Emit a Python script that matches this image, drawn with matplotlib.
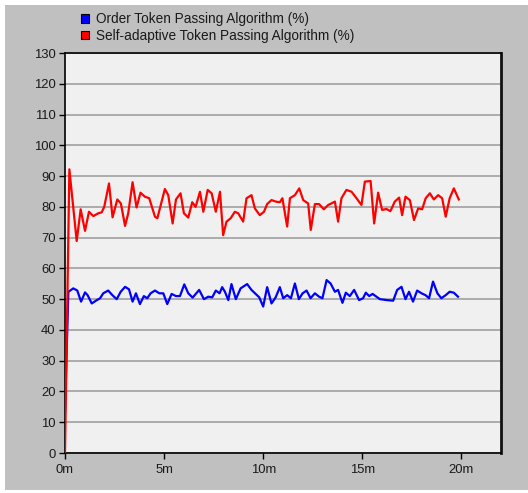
# Token passing algorithm utilisation over simulated time (OPNET-style chart)

import matplotlib
matplotlib.use('Agg')
import matplotlib.pyplot as plt
from matplotlib.patches import Patch, Rectangle

# %% Data (minutes, percent)

red_t = [0.0, 0.22, 0.59, 0.79, 1.01, 1.21, 1.43, 1.68, 1.85, 1.98, 2.22, 2.40, 2.64, 2.82,
         3.03, 3.19, 3.41, 3.61, 3.81, 4.03, 4.25, 4.54, 4.66, 5.04, 5.21, 5.43, 5.60, 5.83,
         6.00, 6.22, 6.42, 6.59, 6.81, 6.98, 7.20, 7.40, 7.61, 7.82, 7.98, 8.15, 8.36, 8.57,
         8.74, 8.99, 9.16, 9.41, 9.58, 9.83, 10.04, 10.20, 10.42, 10.64, 10.84, 10.97, 11.21,
         11.35, 11.60, 11.82, 12.02, 12.27, 12.40, 12.61, 12.82, 13.06, 13.28, 13.62, 13.78,
         13.95, 14.20, 14.46, 14.71, 14.96, 15.13, 15.42, 15.60, 15.80, 16.00, 16.22, 16.42,
         16.64, 16.86, 17.01, 17.18, 17.40, 17.61, 17.82, 18.02, 18.20, 18.41, 18.61, 18.83,
         19.03, 19.21, 19.41, 19.62, 19.87]
red_v = [0.0, 92.2, 68.9, 79.2, 72.2, 78.4, 77.0, 77.9, 78.2, 80.0, 87.6, 76.6, 82.4, 81.1,
         73.8, 77.9, 88.0, 79.8, 84.6, 83.3, 82.8, 76.8, 76.3, 85.8, 83.8, 74.6, 82.4, 84.4,
         77.9, 76.5, 81.5, 80.0, 84.9, 78.4, 85.5, 84.4, 78.4, 84.9, 70.8, 75.2, 76.3, 78.4,
         77.9, 75.2, 82.8, 83.8, 79.5, 77.3, 78.4, 80.9, 82.2, 81.7, 81.5, 82.8, 73.6,
         82.8, 83.8, 86.0, 82.2, 81.1, 72.5, 80.9, 80.9, 79.2, 80.6, 81.7, 75.2,
         82.8, 85.5, 84.9, 82.8, 80.6, 88.2, 88.4, 74.6, 84.6, 79.0, 79.3, 78.6,
         81.7, 83.0, 77.3, 83.3, 82.2, 75.7, 79.5, 79.2, 82.8, 84.4, 82.4, 83.8,
         82.8, 76.8, 82.8, 86.0, 82.4]

blue_t = [0.0, 0.17, 0.42, 0.62, 0.81, 1.01, 1.14, 1.35, 1.56, 1.77, 1.93, 2.18, 2.39, 2.61,
          2.81, 3.03, 3.23, 3.41, 3.58, 3.78, 3.98, 4.15, 4.32, 4.54, 4.76, 4.96, 5.16, 5.38,
          5.60, 5.80, 6.02, 6.22, 6.44, 6.77, 7.01, 7.23, 7.43, 7.61, 7.80, 7.93, 8.07, 8.24,
          8.40, 8.62, 8.86, 9.19, 9.41, 9.62, 9.80, 10.00, 10.20, 10.42, 10.63, 10.84, 11.01,
          11.21, 11.40, 11.60, 11.80, 11.99, 12.19, 12.39, 12.61, 12.82, 12.99, 13.20, 13.40,
          13.62, 13.78, 14.00, 14.17, 14.37, 14.59, 14.84, 15.04, 15.18, 15.35, 15.52, 15.89,
          16.22, 16.56, 16.76, 16.98, 17.18, 17.36, 17.56, 17.77, 17.99, 18.19, 18.37, 18.57,
          18.79, 18.99, 19.21, 19.41, 19.62, 19.83]
blue_v = [14.0, 52.4, 53.5, 52.8, 49.2, 52.2, 51.3, 48.6, 49.5, 50.3, 51.9, 52.8, 51.3, 50.0,
          52.4, 54.0, 53.2, 49.2, 51.9, 48.4, 51.0, 50.3, 51.9, 52.8, 51.9, 51.9, 48.4, 51.7,
          51.0, 51.0, 54.8, 51.9, 50.5, 53.0, 50.0, 50.8, 50.6, 52.8, 51.9, 53.9, 52.4, 49.7,
          54.9, 50.0, 53.5, 54.9, 53.0, 51.7, 50.6, 47.6, 53.9, 48.6, 50.6, 53.9, 50.3,
          51.3, 50.3, 55.1, 50.0, 51.9, 52.8, 50.3, 51.9, 50.8, 50.3, 56.2, 55.1,
          52.4, 53.0, 48.8, 52.1, 51.0, 53.0, 49.7, 50.3, 52.1, 51.0, 51.7, 50.0,
          49.7, 49.5, 53.0, 54.0, 50.0, 52.4, 49.2, 52.8, 51.9, 51.3, 50.3, 55.7,
          51.9, 50.3, 51.3, 52.4, 52.1, 50.8]

series_labels = ['Order Token Passing Algorithm (%)', 'Self-adaptive Token Passing Algorithm (%)']
x_ticks = [0, 5, 10, 15, 20]
x_tick_labels = ['0m', '5m', '10m', '15m', '20m']
y_ticks = list(range(0, 131, 10))

# %% Style

plt.rcParams['font.family'] = ['Liberation Sans', 'DejaVu Sans']
txt_col = '#1a1a1a'
fs = 9.4

W, H = 528, 493
fig = plt.figure(figsize=(W / 100, H / 100), dpi=100)
fig.set_facecolor('white')

# Grey panel behind the chart
fig.patches.append(Rectangle((5 / W, 3 / H), 1, (H - 8) / H, transform=fig.transFigure,
                             facecolor='#c0c0c0', edgecolor='none', zorder=-5))

ax = fig.add_axes([65 / W, (H - 453) / H, 436 / W, 400 / H])
ax.set_zorder(2)
ax.set_facecolor('#f0f0f0')

ax.plot(blue_t, blue_v, color='#0000ff', lw=1.6, zorder=3)
ax.plot(red_t, red_v, color='#ff0000', lw=1.6, zorder=3)

ax.set_xlim(0, 22)
ax.set_ylim(0, 130)
ax.set_xticks(x_ticks)
ax.set_xticklabels(x_tick_labels)
ax.set_yticks(y_ticks)
ax.grid(axis='y', color='#a0a0a0', lw=1.2, zorder=1)
ax.set_axisbelow(True)

ax.tick_params(axis='both', direction='out', length=4.3, width=1, color='black',
               labelsize=fs, labelcolor=txt_col)
ax.tick_params(axis='y', pad=2.5)
ax.tick_params(axis='x', pad=3.5)

for side in ['left', 'bottom', 'top']:
    ax.spines[side].set_color('black')
    ax.spines[side].set_linewidth(1.2)
ax.spines['right'].set_color('#111111')
ax.spines['right'].set_linewidth(2)

# Legend above the plot
handles = [Patch(facecolor='#0000ff', edgecolor='black', lw=0.8),
           Patch(facecolor='#ff0000', edgecolor='black', lw=0.8)]
fig.legend(handles, series_labels, loc='upper left', bbox_to_anchor=(81 / W, 1 - 12 / H),
           frameon=False, fontsize=9.8, handlelength=0.62, handleheight=0.62,
           handletextpad=0.45, labelspacing=0.2, borderpad=0, borderaxespad=0,
           labelcolor=txt_col)

fig.savefig('out.png', dpi=100, facecolor=fig.get_facecolor())
